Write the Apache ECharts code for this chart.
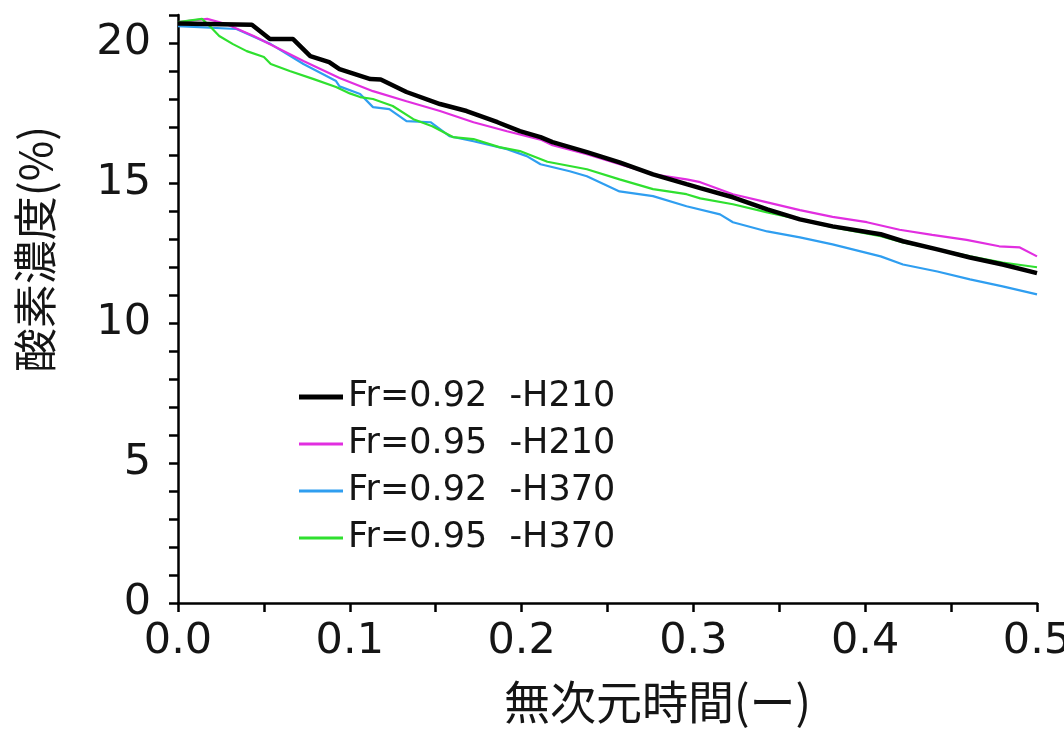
<!DOCTYPE html>
<html>
<head>
<meta charset="utf-8">
<script src="https://cdn.jsdelivr.net/npm/echarts@6/dist/echarts.min.js"></script>
<style>
html,body{margin:0;padding:0;background:#fff;}
#chart{width:1064px;height:733px;}
</style>
</head>
<body>
<div id="chart"></div>
<script>
// Series names (legend text)
const seriesNames = ['Fr=0.92  -H210', 'Fr=0.95  -H210', 'Fr=0.92  -H370', 'Fr=0.95  -H370'];

// [dimensionless time, oxygen concentration %]
const blackH210 = [
  [0.000,20.70],[0.043,20.65],[0.0535,20.14],[0.067,20.14],[0.077,19.53],[0.088,19.32],
  [0.094,19.07],[0.112,18.71],[0.118,18.70],[0.133,18.25],[0.1525,17.82],[0.168,17.57],
  [0.186,17.17],[0.199,16.85],[0.211,16.64],[0.218,16.46],[0.238,16.10],[0.257,15.74],
  [0.2765,15.31],[0.296,14.96],[0.304,14.82],[0.323,14.49],[0.343,14.06],[0.362,13.70],
  [0.381,13.45],[0.409,13.17],[0.422,12.92],[0.442,12.63],[0.461,12.34],[0.480,12.09],[0.500,11.78]
];
const magentaH210 = [
  [0.000,20.75],[0.017,20.86],[0.028,20.68],[0.044,20.25],[0.073,19.36],[0.094,18.75],
  [0.1135,18.28],[0.133,17.92],[0.1525,17.57],[0.172,17.17],[0.1915,16.85],[0.211,16.55],
  [0.218,16.35],[0.238,16.03],[0.257,15.67],[0.2765,15.31],[0.296,15.13],[0.304,15.03],
  [0.323,14.60],[0.343,14.31],[0.362,14.03],[0.381,13.79],[0.401,13.60],[0.420,13.33],
  [0.439,13.15],[0.459,12.97],[0.478,12.74],[0.490,12.70],[0.500,12.38]
];
const blueH370 = [
  [0.000,20.60],[0.034,20.50],[0.054,19.96],[0.073,19.25],[0.092,18.64],[0.094,18.45],
  [0.106,18.18],[0.1135,17.71],[0.123,17.64],[0.133,17.21],[0.147,17.17],[0.158,16.67],
  [0.172,16.49],[0.1915,16.21],[0.203,15.96],[0.211,15.67],[0.228,15.42],[0.238,15.24],
  [0.257,14.70],[0.2765,14.53],[0.296,14.17],[0.3155,13.88],[0.323,13.60],[0.343,13.27],
  [0.362,13.06],[0.381,12.81],[0.409,12.38],[0.422,12.09],[0.442,11.84],[0.461,11.56],
  [0.480,11.31],[0.500,11.02]
];
const greenH370 = [
  [0.000,20.75],[0.014,20.86],[0.019,20.57],[0.024,20.25],[0.032,19.96],[0.040,19.71],
  [0.050,19.50],[0.054,19.25],[0.065,19.00],[0.079,18.71],[0.092,18.43],[0.100,18.20],
  [0.106,18.07],[0.1135,18.00],[0.125,17.75],[0.137,17.28],[0.148,17.03],[0.160,16.64],
  [0.172,16.57],[0.187,16.28],[0.199,16.14],[0.215,15.76],[0.238,15.49],[0.257,15.13],
  [0.2765,14.78],[0.296,14.60],[0.304,14.45],[0.323,14.24],[0.343,13.95],[0.362,13.70],
  [0.381,13.42],[0.409,13.10],[0.422,12.88],[0.442,12.63],[0.461,12.38],[0.480,12.16],[0.500,11.99]
];

const xTitle = '無次元時間(ー)';
const yTitle = '酸素濃度(%)';

const chart = echarts.init(document.getElementById('chart'), null, {renderer: 'canvas'});
const axisFont = 'DejaVu Sans';
const cjkFont = 'Noto Sans CJK JP';
const colors = ['#000000', '#e12ee0', '#2f9ef0', '#2fe02f'];

function mkSeries(name, data, color, width, z) {
  return {
    name: name, type: 'line', data: data, symbol: 'none', showSymbol: false,
    smooth: false, z: z, lineStyle: {color: color, width: width}, itemStyle: {color: color},
    animation: false
  };
}

const legendText = {fontFamily: axisFont, fontSize: 35, color: '#151515', lineHeight: 36};

chart.setOption({
  animation: false,
  backgroundColor: '#fff',
  grid: {left: 178, right: 27, top: 15, bottom: 130, containLabel: false, outerBoundsMode: 'none'},
  legend: [
    {
      orient: 'vertical', left: 294, top: 374,
      itemWidth: 44, itemHeight: 5, itemGap: 11, icon: 'rect',
      textStyle: legendText, data: [seriesNames[0]]
    },
    {
      orient: 'vertical', left: 294, top: 421,
      itemWidth: 44, itemHeight: 3, itemGap: 11, icon: 'rect',
      textStyle: legendText, data: seriesNames.slice(1)
    }
  ],
  xAxis: {
    type: 'value', min: 0, max: 0.5, interval: 0.05,
    name: xTitle, nameLocation: 'middle', nameGap: 76,
    nameTextStyle: {fontFamily: cjkFont, fontSize: 46, color: '#151515', padding: [0, 0, 0, 100]},
    axisLine: {lineStyle: {color: '#000', width: 2.5}},
    axisTick: {show: true, inside: false, length: 9, lineStyle: {color: '#000', width: 2.5}},
    axisLabel: {
      margin: 17, fontFamily: axisFont, fontSize: 43, color: '#151515',
      formatter: function (v) {
        const t = v * 10;
        return Math.abs(t - Math.round(t)) < 1e-6 ? v.toFixed(1) : '';
      }
    },
    splitLine: {show: false}
  },
  yAxis: {
    type: 'value', min: 0, max: 21, interval: 1,
    name: yTitle, nameLocation: 'middle', nameGap: 121,
    nameTextStyle: {fontFamily: cjkFont, fontSize: 44, color: '#151515', padding: [0, 0, 0, 120]},
    axisLine: {show: true, lineStyle: {color: '#000', width: 2.5}},
    axisTick: {show: true, inside: false, length: 9, lineStyle: {color: '#000', width: 2.5}},
    axisLabel: {
      margin: 27, fontFamily: axisFont, fontSize: 43, color: '#151515',
      formatter: function (v) { return (Math.round(v) % 5 === 0) ? String(Math.round(v)) : ''; }
    },
    splitLine: {show: false}
  },
  series: [
    mkSeries(seriesNames[0], blackH210, colors[0], 4.5, 5),
    mkSeries(seriesNames[1], magentaH210, colors[1], 2.2, 3),
    mkSeries(seriesNames[2], blueH370, colors[2], 2.2, 2),
    mkSeries(seriesNames[3], greenH370, colors[3], 2.2, 4)
  ]
});
</script>
</body>
</html>
